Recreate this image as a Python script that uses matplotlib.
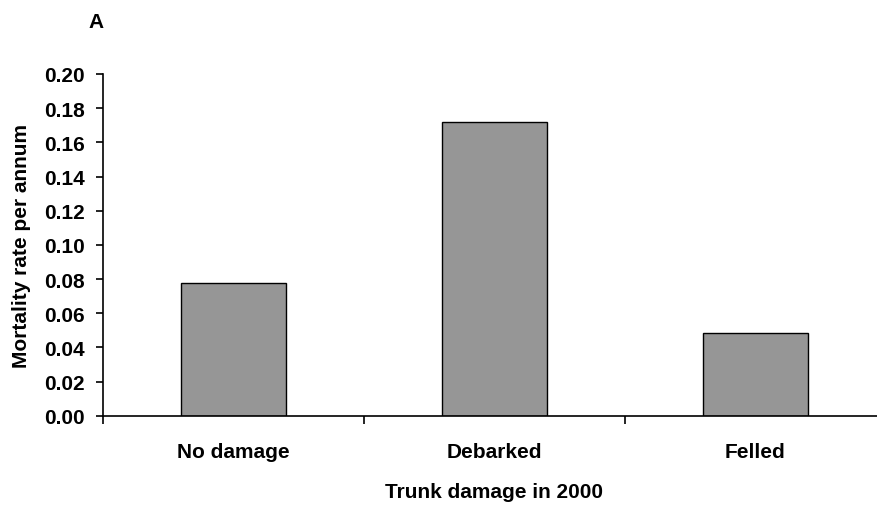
import matplotlib.pyplot as plt
import numpy as np

plt.rcParams['font.family'] = ['Liberation Sans', 'DejaVu Sans']
plt.rcParams['font.weight'] = 'bold'

categories = ["No damage", "Debarked", "Felled"]
mortality = [0.0777, 0.172, 0.0482]
yticks = [0.00, 0.02, 0.04, 0.06, 0.08, 0.10, 0.12, 0.14, 0.16, 0.18, 0.20]

fig = plt.figure(figsize=(8.77, 5.06), dpi=100)
ax = fig.add_axes([103/877, (506-416.7)/506, 783/877, (416.7-75)/506])

x = np.arange(len(categories))
ax.bar(x, mortality, width=0.4, color="#969696", edgecolor="black", linewidth=1)

ax.set_xlim(-0.5, 2.5)
ax.set_ylim(0, 0.2)
ax.set_yticks(yticks)
ax.set_yticklabels([f"{v:.2f}" for v in yticks], fontsize=15, fontweight="bold")
ax.set_xticks(x)
ax.set_xticklabels(categories, fontsize=15, fontweight="bold")
ax.set_xticks(np.arange(-0.5, 3.0, 1.0), minor=True)
ax.tick_params(axis="x", which="major", length=0, pad=19)
ax.tick_params(axis="x", which="minor", length=6, width=1.2, direction="out")
ax.tick_params(axis="y", length=5, width=1.2, direction="out", pad=8)

for s in ["top", "right"]:
    ax.spines[s].set_visible(False)
for s in ["left", "bottom"]:
    ax.spines[s].set_linewidth(1.2)
ax.spines["bottom"].set_clip_on(False)

fig.text(494/877, 1 - 493/506, "Trunk damage in 2000", ha="center", va="center",
         fontsize=15, fontweight="bold")
fig.text(22/877, 1 - 246/506, "Mortality rate per annum", ha="center", va="center",
         rotation=90, fontsize=15, fontweight="bold")
fig.text(96.5/877, 1 - 23/506, "A", ha="center", va="center", fontsize=15, fontweight="bold")

fig.savefig("out.png", dpi=100)
